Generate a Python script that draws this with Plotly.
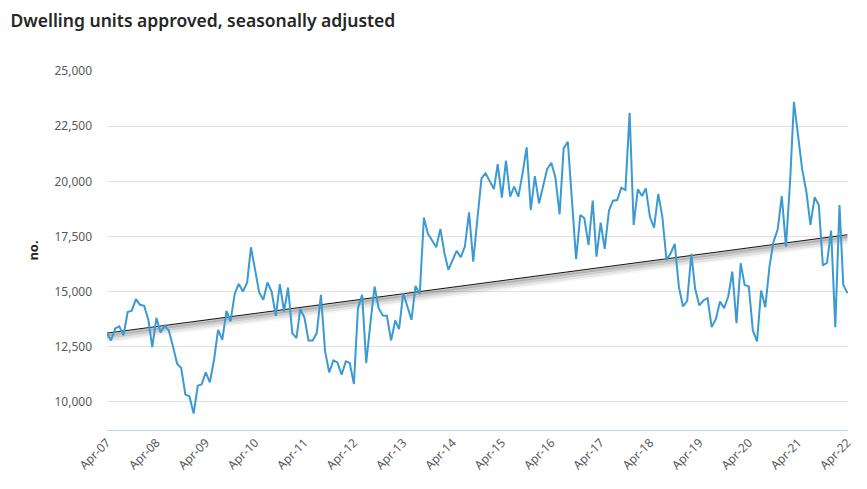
import pandas as pd
import plotly.graph_objects as go

start_month = "2007-04-01"
dwelling_units = [
    13122, 12790, 13333, 13423, 13016, 14072, 14132, 14660, 14403, 14358, 13725, 12488,
    13815, 13152, 13453, 13242, 12520, 11735, 11540, 10332, 10256, 9472, 10739, 10799,
    11342, 10890, 11915, 13272, 12820,
    14132, 13649, 14901, 15353, 15006, 15414, 17012, 15987, 14961, 14630, 15414, 15006,
    13906, 15338, 14102, 15188, 13122, 12895, 14222, 13830, 12790, 12790, 13122, 14856,
    12292, 11342, 11885, 11795, 11237,
    11840, 11764, 10814, 14253, 14856, 11764, 13574, 15233, 14253, 13921, 13906, 12790,
    13695, 13303, 14931, 14328, 13725, 15263, 14901, 18354, 17615, 17314, 17012, 17842,
    16711, 15987, 16469, 16846, 16560,
    17042, 18596, 16364, 18249, 20134, 20360, 20028, 19651, 20782, 19259, 20933, 19304,
    19757, 19304, 20360, 21536, 18701, 20239, 19003, 19832, 20556, 20843, 20179, 18505,
    21491, 21793, 19078, 16469, 18475, 18324,
    17118, 19123, 16590, 18128, 16937, 18671, 19123, 19154, 19712, 19606, 23105, 18023,
    19636, 19334, 19681, 18369, 17902, 19425, 18400, 16439, 16741, 17163, 15203, 14328,
    14584, 16711, 15127, 14373, 14599,
    14705, 13393, 13755, 14554, 14253, 14780, 15911, 13574, 16288, 15308, 15233, 13242,
    12745, 15052, 14298, 16137, 17269, 17827, 19334, 17042, 20058, 23602, 22170, 20541,
    19530, 18023, 19274, 18927, 16183, 16318, 17766, 13393, 18927, 15308, 14931,
]
trend_dates = ["2007-04-01", "2022-04-01"]
trend_values = [13120, 17580]
y_ticks = [10000, 12500, 15000, 17500, 20000, 22500, 25000]

months = pd.date_range(start_month, periods=len(dwelling_units), freq="MS")

fig = go.Figure()

# soft shadow under the trend line
for off, w, a in [(-80, 3, 0.20), (-160, 4, 0.12), (-250, 5, 0.07), (-330, 5, 0.035)]:
    fig.add_trace(go.Scatter(
        x=trend_dates, y=[v + off for v in trend_values], mode="lines",
        line=dict(color=f"rgba(0,0,0,{a})", width=w), hoverinfo="skip", showlegend=False))

fig.add_trace(go.Scatter(
    x=trend_dates, y=trend_values, mode="lines",
    line=dict(color="#111111", width=1), showlegend=False))

fig.add_trace(go.Scatter(
    x=months, y=dwelling_units, mode="lines",
    line=dict(color="#3b9ad2", width=2), showlegend=False))

fig.update_layout(
    width=867, height=489,
    margin=dict(l=107, r=17, t=71, b=59),
    paper_bgcolor="white", plot_bgcolor="white",
    font=dict(family="Noto Sans, Open Sans, sans-serif", color="#595959", size=12),
    title=dict(text="Dwelling units approved, seasonally adjusted",
               x=0.012, xanchor="left", y=0.958, yanchor="middle",
               font=dict(size=17.5, color="#262626", weight=600,
                         family="Noto Sans, Open Sans, sans-serif")),
    showlegend=False,
)
fig.update_xaxes(
    type="date",
    range=["2007-04-01", "2022-04-05"],
    tick0="2007-04-01", dtick="M12", tickformat="%b-%y",
    tickangle=-45, showgrid=False, zeroline=False,
    showline=True, linecolor="#c5d3e8", linewidth=1,
    ticks="", tickfont=dict(size=12, color="#595959"),
)
fig.update_yaxes(
    range=[8730, 25000], tickvals=y_ticks, tickformat=",",
    showgrid=True, gridcolor="#e1e1e1", gridwidth=1,
    zeroline=False, showline=False, ticks="",
    ticklabelstandoff=14,
    tickfont=dict(size=12, color="#595959"),
    title=dict(text="<b>no.</b>", standoff=12, font=dict(size=13, color="#262626")),
)

fig.write_html("out.html")
